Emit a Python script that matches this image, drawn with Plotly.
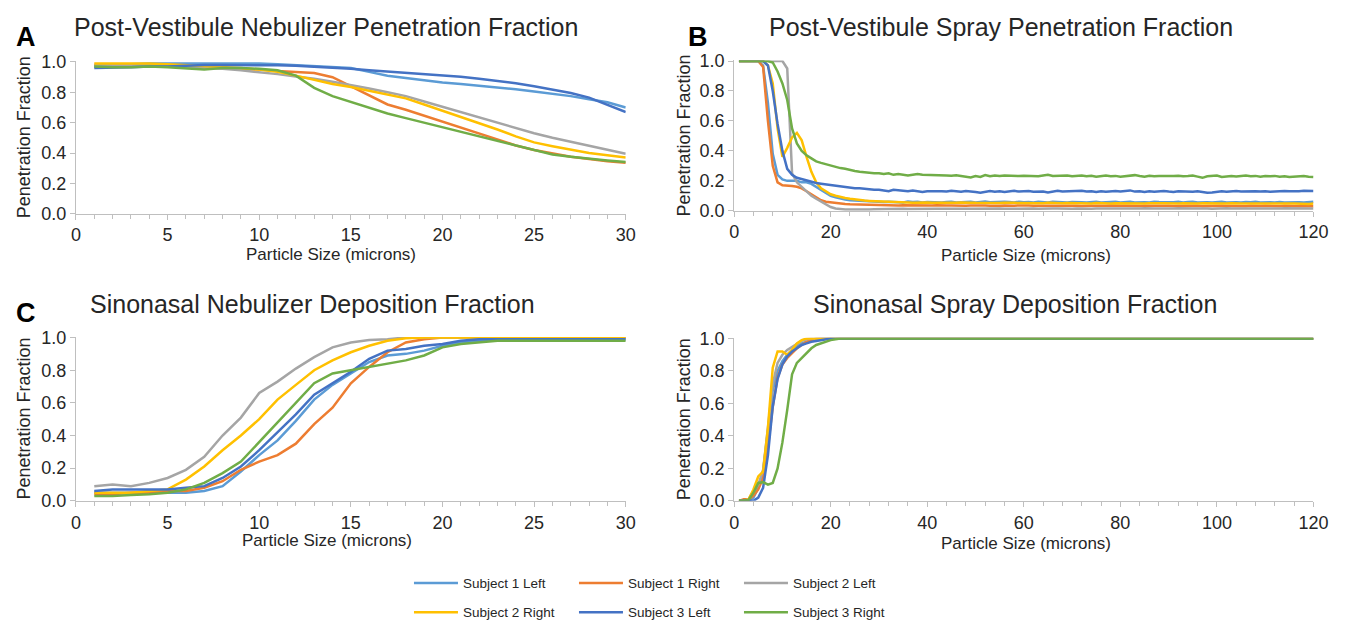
import plotly.graph_objects as go

# ---------------- data ----------------
series_names = ["Subject 1 Left", "Subject 1 Right", "Subject 2 Left",
                "Subject 2 Right", "Subject 3 Left", "Subject 3 Right"]
series_colors = ["#5B9BD5", "#ED7D31", "#A5A5A5", "#FFC000", "#4472C4", "#70AD47"]

x_neb = list(range(1, 31))
x_spray = list(range(1, 121))

# Panel A: Post-Vestibule Nebulizer Penetration Fraction
a_s1l = [0.97,0.98,0.985,0.99,0.99,0.99,0.99,0.99,0.99,0.99,
         0.985,0.98,0.975,0.97,0.96,0.935,0.91,0.895,0.88,0.865,
         0.855,0.845,0.835,0.82,0.805,0.79,0.775,0.755,0.735,0.70]
a_s1r = [0.98,0.98,0.98,0.975,0.97,0.97,0.965,0.96,0.955,0.95,
         0.94,0.935,0.928,0.9,0.84,0.775,0.72,0.685,0.645,0.605,
         0.565,0.525,0.485,0.45,0.42,0.395,0.375,0.36,0.345,0.335]
a_s2l = [0.98,0.98,0.98,0.98,0.975,0.97,0.965,0.955,0.945,0.935,
         0.92,0.905,0.89,0.87,0.85,0.825,0.80,0.775,0.74,0.705,
         0.67,0.635,0.6,0.565,0.53,0.5,0.475,0.45,0.425,0.395]
a_s2r = [0.99,0.99,0.99,0.99,0.985,0.98,0.975,0.97,0.96,0.95,
         0.935,0.91,0.88,0.855,0.835,0.81,0.785,0.76,0.72,0.68,
         0.64,0.60,0.555,0.51,0.47,0.445,0.42,0.40,0.385,0.37]
a_s3l = [0.96,0.96,0.965,0.97,0.97,0.975,0.98,0.98,0.98,0.98,
         0.978,0.975,0.97,0.962,0.955,0.945,0.937,0.93,0.92,0.912,
         0.902,0.89,0.876,0.86,0.84,0.818,0.795,0.765,0.72,0.67]
a_s3r = [0.97,0.965,0.965,0.97,0.965,0.955,0.95,0.96,0.96,0.955,
         0.945,0.91,0.83,0.775,0.735,0.70,0.66,0.63,0.60,0.57,
         0.54,0.51,0.48,0.45,0.42,0.39,0.375,0.36,0.35,0.34]

# Panel B: Post-Vestibule Spray Penetration Fraction
b_s1l = [1.0,1.0,1.0,1.0,1.0,0.97,0.72,0.38,0.24,0.21,
         0.20,0.20,0.20,0.19,0.19,0.18,0.16,0.14,0.12,0.10,
         0.09,0.08,0.075,0.07,0.068,0.065,0.063,0.062,0.06,0.06,
         0.058,0.06,0.057,0.059,0.055,0.062,0.058,0.06,0.056,0.059,
         0.057,0.06,0.055,0.058,0.061,0.056,0.059,0.057,0.06,0.055,
         0.058,0.062,0.057,0.059,0.056,0.06,0.058,0.055,0.061,0.057,
         0.059,0.056,0.06,0.058,0.055,0.06,0.057,0.059,0.056,0.058,
         0.06,0.057,0.055,0.059,0.061,0.056,0.058,0.057,0.06,0.055,
         0.058,0.06,0.056,0.059,0.057,0.055,0.06,0.058,0.056,0.059,
         0.057,0.06,0.055,0.058,0.061,0.056,0.059,0.057,0.055,0.058,
         0.06,0.056,0.058,0.057,0.055,0.059,0.057,0.06,0.056,0.058,
         0.057,0.055,0.059,0.056,0.058,0.06,0.057,0.055,0.058,0.06]
b_s1r = [1.0,1.0,1.0,1.0,1.0,0.96,0.6,0.3,0.19,0.17,
         0.17,0.165,0.16,0.15,0.13,0.11,0.09,0.07,0.06,0.055,
         0.05,0.048,0.045,0.043,0.042,0.04,0.04,0.039,0.038,0.038,
         0.037,0.036,0.038,0.035,0.037,0.036,0.034,0.037,0.035,0.036,
         0.035,0.037,0.034,0.036,0.035,0.033,0.036,0.034,0.035,0.036,
         0.034,0.035,0.033,0.036,0.034,0.035,0.033,0.034,0.036,0.033,
         0.035,0.034,0.032,0.035,0.033,0.034,0.035,0.032,0.034,0.033,
         0.034,0.032,0.035,0.033,0.034,0.032,0.033,0.035,0.032,0.034,
         0.033,0.031,0.034,0.032,0.033,0.034,0.031,0.033,0.032,0.034,
         0.032,0.033,0.031,0.034,0.032,0.033,0.031,0.032,0.034,0.031,
         0.033,0.032,0.031,0.033,0.032,0.030,0.033,0.031,0.032,0.033,
         0.031,0.032,0.030,0.033,0.031,0.032,0.030,0.031,0.032,0.030]
b_s2l = [1.0,1.0,1.0,1.0,1.0,1.0,1.0,1.0,1.0,1.0,
         0.95,0.25,0.19,0.16,0.13,0.10,0.08,0.06,0.04,0.025,
         0.015,0.01,0.008,0.008,0.007,0.008,0.01,0.009,0.01,0.011,
         0.012,0.011,0.013,0.012,0.014,0.012,0.013,0.011,0.013,0.014,
         0.012,0.014,0.013,0.015,0.012,0.014,0.013,0.015,0.014,0.013,
         0.014,0.013,0.015,0.014,0.016,0.013,0.015,0.014,0.013,0.015,
         0.014,0.016,0.013,0.015,0.014,0.016,0.015,0.013,0.015,0.014,
         0.016,0.014,0.015,0.013,0.016,0.015,0.014,0.016,0.015,0.014,
         0.015,0.016,0.014,0.015,0.017,0.014,0.016,0.015,0.014,0.016,
         0.015,0.017,0.015,0.014,0.016,0.015,0.017,0.016,0.014,0.016,
         0.015,0.017,0.016,0.015,0.014,0.016,0.017,0.015,0.016,0.015,
         0.017,0.016,0.015,0.017,0.016,0.014,0.016,0.017,0.015,0.016]
b_s2r = [1.0,1.0,1.0,1.0,1.0,1.0,0.97,0.85,0.55,0.36,
         0.42,0.49,0.52,0.47,0.36,0.26,0.19,0.15,0.13,0.11,
         0.10,0.09,0.085,0.08,0.075,0.07,0.068,0.066,0.064,0.062,
         0.06,0.058,0.057,0.056,0.055,0.055,0.054,0.056,0.053,0.055,
         0.054,0.053,0.055,0.052,0.054,0.053,0.055,0.052,0.054,0.053,
         0.052,0.054,0.051,0.053,0.052,0.054,0.051,0.053,0.052,0.051,
         0.053,0.051,0.052,0.050,0.053,0.051,0.052,0.050,0.052,0.051,
         0.050,0.052,0.051,0.049,0.052,0.050,0.051,0.049,0.051,0.050,
         0.052,0.049,0.051,0.050,0.048,0.051,0.049,0.050,0.051,0.049,
         0.050,0.048,0.051,0.049,0.050,0.048,0.050,0.049,0.047,0.050,
         0.049,0.048,0.050,0.047,0.049,0.048,0.050,0.047,0.049,0.048,
         0.047,0.049,0.048,0.046,0.048,0.049,0.047,0.048,0.046,0.048]
b_s3l = [1.0,1.0,1.0,1.0,1.0,1.0,0.97,0.80,0.58,0.40,
         0.28,0.24,0.22,0.21,0.20,0.19,0.185,0.18,0.175,0.17,
         0.165,0.16,0.16,0.155,0.15,0.15,0.145,0.14,0.14,0.14,
         0.135,0.13,0.14,0.135,0.13,0.13,0.135,0.13,0.125,0.13,
         0.13,0.135,0.13,0.128,0.133,0.13,0.127,0.132,0.13,0.125,
         0.12,0.128,0.132,0.127,0.13,0.125,0.13,0.133,0.128,0.13,
         0.132,0.127,0.13,0.128,0.122,0.13,0.133,0.128,0.13,0.127,
         0.13,0.133,0.128,0.13,0.125,0.13,0.127,0.13,0.132,0.128,
         0.13,0.136,0.128,0.13,0.125,0.13,0.127,0.129,0.132,0.128,
         0.126,0.13,0.128,0.131,0.127,0.13,0.125,0.12,0.122,0.128,
         0.13,0.127,0.13,0.132,0.128,0.13,0.127,0.13,0.128,0.131,
         0.127,0.13,0.128,0.132,0.13,0.128,0.131,0.133,0.13,0.132]
b_s3r = [1.0,1.0,1.0,1.0,1.0,1.0,1.0,0.99,0.93,0.85,
         0.74,0.55,0.45,0.40,0.37,0.35,0.33,0.32,0.31,0.30,
         0.29,0.285,0.28,0.27,0.265,0.26,0.255,0.255,0.25,0.25,
         0.245,0.25,0.24,0.245,0.24,0.235,0.24,0.245,0.24,0.24,
         0.24,0.235,0.238,0.236,0.234,0.237,0.232,0.228,0.222,0.232,
         0.226,0.238,0.23,0.236,0.232,0.235,0.233,0.236,0.232,0.234,
         0.232,0.235,0.231,0.236,0.24,0.233,0.235,0.232,0.236,0.23,
         0.233,0.236,0.231,0.234,0.228,0.232,0.235,0.23,0.233,0.228,
         0.232,0.236,0.238,0.232,0.228,0.234,0.23,0.233,0.231,0.229,
         0.232,0.234,0.23,0.232,0.235,0.228,0.22,0.23,0.232,0.235,
         0.226,0.23,0.232,0.229,0.232,0.235,0.23,0.233,0.228,0.232,
         0.23,0.233,0.228,0.231,0.225,0.228,0.23,0.232,0.228,0.225]

# Panel C: Sinonasal Nebulizer Deposition Fraction
c_s1l = [0.05,0.05,0.05,0.05,0.05,0.05,0.06,0.09,0.18,0.28,
         0.37,0.49,0.62,0.71,0.78,0.85,0.89,0.90,0.92,0.95,
         0.97,0.98,0.99,0.99,0.99,0.99,0.99,0.99,0.99,0.99]
c_s1r = [0.04,0.04,0.05,0.05,0.06,0.06,0.08,0.12,0.19,0.24,
         0.28,0.35,0.47,0.57,0.72,0.82,0.91,0.97,0.99,1.0,
         1.0,1.0,1.0,1.0,1.0,1.0,1.0,1.0,1.0,1.0]
c_s2l = [0.09,0.10,0.09,0.11,0.14,0.19,0.27,0.40,0.51,0.66,
         0.73,0.81,0.88,0.94,0.97,0.985,0.99,1.0,1.0,1.0,
         1.0,1.0,1.0,1.0,1.0,1.0,1.0,1.0,1.0,1.0]
c_s2r = [0.05,0.05,0.05,0.06,0.07,0.13,0.21,0.31,0.40,0.50,
         0.62,0.71,0.80,0.86,0.91,0.95,0.98,0.995,1.0,1.0,
         1.0,1.0,1.0,1.0,1.0,1.0,1.0,1.0,1.0,1.0]
c_s3l = [0.06,0.07,0.07,0.07,0.07,0.08,0.09,0.14,0.21,0.31,
         0.42,0.53,0.65,0.72,0.79,0.87,0.92,0.93,0.95,0.96,
         0.98,0.99,0.99,0.99,0.99,0.99,0.99,0.99,0.99,0.99]
c_s3r = [0.03,0.03,0.035,0.04,0.05,0.07,0.11,0.17,0.24,0.36,
         0.48,0.60,0.72,0.78,0.80,0.82,0.84,0.86,0.89,0.94,
         0.96,0.97,0.98,0.98,0.98,0.98,0.98,0.98,0.98,0.98]

# Panel D: Sinonasal Spray Deposition Fraction
d_s1l = [0,0,0,0.02,0.08,0.18,0.42,0.68,0.80,0.86,
         0.90,0.93,0.95,0.97,0.98,0.99,0.995,1,1,1,
         1,1,1,1,1,1,1,1,1,1, 1,1,1,1,1,1,1,1,1,1,
         1,1,1,1,1,1,1,1,1,1, 1,1,1,1,1,1,1,1,1,1,
         1,1,1,1,1,1,1,1,1,1, 1,1,1,1,1,1,1,1,1,1,
         1,1,1,1,1,1,1,1,1,1, 1,1,1,1,1,1,1,1,1,1,
         1,1,1,1,1,1,1,1,1,1, 1,1,1,1,1,1,1,1,1,1]
d_s1r = [0,0.01,0.01,0.03,0.07,0.14,0.33,0.58,0.76,0.84,
         0.88,0.91,0.94,0.96,0.98,0.99,1,1,1,1,
         1,1,1,1,1,1,1,1,1,1, 1,1,1,1,1,1,1,1,1,1,
         1,1,1,1,1,1,1,1,1,1, 1,1,1,1,1,1,1,1,1,1,
         1,1,1,1,1,1,1,1,1,1, 1,1,1,1,1,1,1,1,1,1,
         1,1,1,1,1,1,1,1,1,1, 1,1,1,1,1,1,1,1,1,1,
         1,1,1,1,1,1,1,1,1,1, 1,1,1,1,1,1,1,1,1,1]
d_s2l = [0,0,0.01,0.06,0.10,0.19,0.45,0.72,0.85,0.90,
         0.93,0.95,0.97,0.985,0.995,1,1,1,1,1,
         1,1,1,1,1,1,1,1,1,1, 1,1,1,1,1,1,1,1,1,1,
         1,1,1,1,1,1,1,1,1,1, 1,1,1,1,1,1,1,1,1,1,
         1,1,1,1,1,1,1,1,1,1, 1,1,1,1,1,1,1,1,1,1,
         1,1,1,1,1,1,1,1,1,1, 1,1,1,1,1,1,1,1,1,1,
         1,1,1,1,1,1,1,1,1,1, 1,1,1,1,1,1,1,1,1,1]
d_s2r = [0,0,0.01,0.07,0.15,0.18,0.45,0.82,0.92,0.92,
         0.90,0.93,0.97,0.99,1,1,1,1,1,1,
         1,1,1,1,1,1,1,1,1,1, 1,1,1,1,1,1,1,1,1,1,
         1,1,1,1,1,1,1,1,1,1, 1,1,1,1,1,1,1,1,1,1,
         1,1,1,1,1,1,1,1,1,1, 1,1,1,1,1,1,1,1,1,1,
         1,1,1,1,1,1,1,1,1,1, 1,1,1,1,1,1,1,1,1,1,
         1,1,1,1,1,1,1,1,1,1, 1,1,1,1,1,1,1,1,1,1]
d_s3l = [0,0,0,0,0.02,0.08,0.28,0.58,0.75,0.84,
         0.89,0.92,0.94,0.96,0.97,0.98,0.985,0.99,0.995,1,
         1,1,1,1,1,1,1,1,1,1, 1,1,1,1,1,1,1,1,1,1,
         1,1,1,1,1,1,1,1,1,1, 1,1,1,1,1,1,1,1,1,1,
         1,1,1,1,1,1,1,1,1,1, 1,1,1,1,1,1,1,1,1,1,
         1,1,1,1,1,1,1,1,1,1, 1,1,1,1,1,1,1,1,1,1,
         1,1,1,1,1,1,1,1,1,1, 1,1,1,1,1,1,1,1,1,1]
d_s3r = [0,0,0.005,0.05,0.11,0.115,0.10,0.11,0.20,0.36,
         0.56,0.78,0.85,0.88,0.91,0.94,0.96,0.97,0.98,0.99,
         0.995,1,1,1,1,1,1,1,1,1, 1,1,1,1,1,1,1,1,1,1,
         1,1,1,1,1,1,1,1,1,1, 1,1,1,1,1,1,1,1,1,1,
         1,1,1,1,1,1,1,1,1,1, 1,1,1,1,1,1,1,1,1,1,
         1,1,1,1,1,1,1,1,1,1, 1,1,1,1,1,1,1,1,1,1,
         1,1,1,1,1,1,1,1,1,1, 1,1,1,1,1,1,1,1,1,1]

panel_titles = ["Post-Vestibule Nebulizer Penetration Fraction",
                "Post-Vestibule Spray Penetration Fraction",
                "Sinonasal Nebulizer Deposition Fraction",
                "Sinonasal Spray Deposition Fraction"]
panel_letters = ["A", "B", "C", ""]
x_title = "Particle Size (microns)"
y_title = "Penetration Fraction"

panels = [
    (x_neb, [a_s1l, a_s1r, a_s2l, a_s2r, a_s3l, a_s3r]),
    (x_spray, [b_s1l, b_s1r, b_s2l, b_s2r, b_s3l, b_s3r]),
    (x_neb, [c_s1l, c_s1r, c_s2l, c_s2r, c_s3l, c_s3r]),
    (x_spray, [d_s1l, d_s1r, d_s2l, d_s2r, d_s3l, d_s3r]),
]

# ---------------- layout (page pixel geometry) ----------------
PAGE_OFF = 0                      # body margin is removed by the post script below
W, H = 1361, 635
FONT = "Liberation Sans, Arial, sans-serif"
TXT = "#262626"
AXC = "#BFBFBF"

def px(x):
    return (x - PAGE_OFF) / W

def py(y):
    return 1 - (y - PAGE_OFF) / H

# plot area boxes in page pixels: (left, right, top(y=1), bottom(y=0))
boxes = [
    (72, 630, 54, 211),
    (740, 1328, 53, 208),
    (72, 630, 338, 507),
    (740, 1328, 339, 507),
]
xmax = [30, 120, 30, 120]
xdt = [5, 20, 5, 20]
xminor = [1, 4, 1, 4]

fig = go.Figure()

for i, (xs, ys_list) in enumerate(panels):
    sfx = "" if i == 0 else str(i + 1)
    for j, ys in enumerate(ys_list):
        fig.add_trace(go.Scatter(
            x=xs, y=ys, mode="lines", name=series_names[j],
            line=dict(color=series_colors[j], width=2.5),
            xaxis="x" + sfx, yaxis="y" + sfx,
            showlegend=(i == 0),
            legend=("legend" if j < 3 else "legend2"),
            hoverinfo="skip",
        ))
    l, r, t, b = boxes[i]
    fig.layout["xaxis" + sfx] = dict(
        domain=[px(l), px(r)], anchor="y" + sfx, range=[0, xmax[i]],
        dtick=xdt[i], tick0=0, showgrid=False, zeroline=False,
        showline=True, linecolor=AXC, linewidth=1.2,
        ticks="outside", ticklen=5, tickcolor=AXC, tickwidth=1.2,
        minor=dict(dtick=xminor[i], ticks="outside", ticklen=4,
                   tickcolor=AXC, tickwidth=1.2, showgrid=False),
        tickfont=dict(family=FONT, size=18, color=TXT),
        fixedrange=True,
    )
    fig.layout["yaxis" + sfx] = dict(
        domain=[py(b), py(t)], anchor="x" + sfx, range=[0, 1.004],
        dtick=0.2, tick0=0, tickformat=".1f", showgrid=False, zeroline=False,
        showline=True, linecolor=AXC, linewidth=1.2,
        ticks="outside", ticklen=5, tickcolor=AXC, tickwidth=1.2,
        tickfont=dict(family=FONT, size=18, color=TXT),
        fixedrange=True,
    )

annotations = []
title_pos = [(326, 19), (1011, 19), (312, 304), (1025, 304)]
letter_pos = [(21, 29), (703, 29), (21, 313), None]
xtitle_pos = [(331, 253), (1036, 254), (327, 548), (1036, 551)]
ytitle_x = [19, 689, 19, 689]
for i in range(4):
    l, r, t, b = boxes[i]
    tx, ty = title_pos[i]
    annotations.append(dict(text=panel_titles[i], x=px(tx), y=py(ty), xref="paper", yref="paper",
                            showarrow=False, xanchor="center", yanchor="middle",
                            font=dict(family=FONT, size=25, color=TXT)))
    if letter_pos[i]:
        lx, ly = letter_pos[i]
        annotations.append(dict(text="<b>" + panel_letters[i] + "</b>", x=px(lx), y=py(ly),
                                xref="paper", yref="paper", showarrow=False,
                                xanchor="center", yanchor="middle",
                                font=dict(family=FONT, size=27, color="#000000")))
    ax, ay = xtitle_pos[i]
    annotations.append(dict(text=x_title, x=px(ax), y=py(ay),
                            xref="paper", yref="paper", showarrow=False,
                            xanchor="center", yanchor="middle",
                            font=dict(family=FONT, size=17, color=TXT)))
    annotations.append(dict(text=y_title, x=px(ytitle_x[i]), y=py((t + b) / 2),
                            xref="paper", yref="paper", showarrow=False, textangle=-90,
                            xanchor="center", yanchor="middle",
                            font=dict(family=FONT, size=18, color=TXT)))

legend_common = dict(orientation="h", xanchor="left", yanchor="middle",
                     entrywidth=106, entrywidthmode="pixels", itemwidth=44,
                     font=dict(family=FONT, size=13.5, color=TXT),
                     bgcolor="rgba(0,0,0,0)", tracegroupgap=0,
                     itemclick=False, itemdoubleclick=False)
fig.update_layout(
    width=W, height=H,
    margin=dict(l=0, r=0, t=0, b=0),
    paper_bgcolor="white", plot_bgcolor="white",
    annotations=annotations,
    legend=dict(x=px(410), y=py(592), **legend_common),
    legend2=dict(x=px(410), y=py(622), **legend_common),
    font=dict(family=FONT),
)

fig.write_html("out.html", config={"displayModeBar": False},
               post_script="document.body.style.margin='0px';document.body.style.overflow='hidden';")
